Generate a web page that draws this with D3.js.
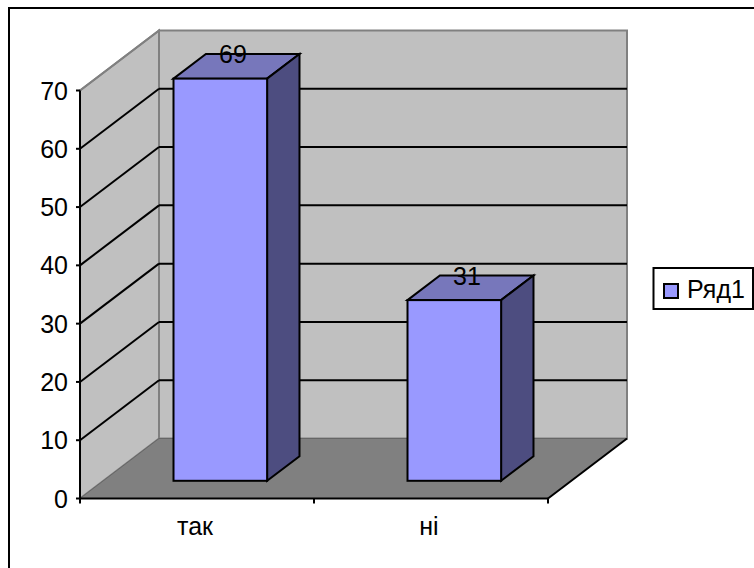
<!DOCTYPE html>
<html>
<head>
<meta charset="utf-8">
<script src="https://cdn.jsdelivr.net/npm/d3@7"></script>
<style>
  html, body { margin: 0; padding: 0; background: #fff; overflow: hidden; }
  text { font-family: "Liberation Sans", Arial, sans-serif; fill: #000; }
</style>
</head>
<body>
<div id="chart"></div>
<script>
const categories = ["так", "ні"];
const values = [69, 31];
const yTicks = [0, 10, 20, 30, 40, 50, 60, 70];
const seriesName = "Ряд1";

const width = 754, height = 568;
const x0 = 80, x1 = 548, y0 = 498.5, y70 = 90.5;
// offset of the back wall from the front of the floor
const depthX = 79, depthY = -60;

const svg = d3.select("#chart").append("svg")
    .attr("width", width)
    .attr("height", height)
    .style("display", "block");

const x = d3.scaleBand().domain(categories).range([x0, x1]).paddingInner(0).paddingOuter(0);
const y = d3.scaleLinear().domain([0, 70]).range([y0, y70]);

// project a point (screen x, screen y at front plane, depth 0..1) to the picture
const px = (sx, z) => sx + z * depthX;
const py = (sy, z) => sy + z * depthY;
const pts = list => list.map(p => p.join(",")).join(" ");

// outer frame, only top and left fall inside the picture
svg.append("path")
    .attr("d", "M9,568V8H754")
    .attr("fill", "none")
    .attr("stroke", "#000")
    .attr("stroke-width", 2);

// back wall
svg.append("rect")
    .attr("x", px(x0, 1)).attr("y", py(y(70), 1))
    .attr("width", x1 - x0).attr("height", y(0) - y(70))
    .attr("fill", "#c0c0c0")
    .attr("stroke", "#808080")
    .attr("stroke-width", 2);

// side wall
svg.append("polygon")
    .attr("points", pts([[x0, y(70)], [px(x0, 1), py(y(70), 1)], [px(x0, 1), py(y(0), 1)], [x0, y(0)]]))
    .attr("fill", "#c0c0c0")
    .attr("stroke", "#808080")
    .attr("stroke-width", 2);

// floor
svg.append("polygon")
    .attr("points", pts([[x0, y(0)], [px(x0, 1), py(y(0), 1)], [px(x1, 1), py(y(0), 1)], [x1, y(0)]]))
    .attr("fill", "#808080")
    .attr("stroke", "#666")
    .attr("stroke-width", 1);

// gridlines on side and back walls
yTicks.filter(t => t > 0 && t < 70).concat([70]).forEach(t => {
    if (t < 70) {
        svg.append("line")
            .attr("x1", x0).attr("y1", y(t))
            .attr("x2", px(x0, 1)).attr("y2", py(y(t), 1))
            .attr("stroke", "#000").attr("stroke-width", 2);
        svg.append("line")
            .attr("x1", px(x0, 1)).attr("y1", py(y(t), 1))
            .attr("x2", px(x1, 1)).attr("y2", py(y(t), 1))
            .attr("stroke", "#000").attr("stroke-width", 2);
    }
});
// 70 line on the back wall sits at the very top, wall stroke covers it
svg.append("line")
    .attr("x1", x0).attr("y1", y(70))
    .attr("x2", px(x0, 1)).attr("y2", py(y(70), 1))
    .attr("stroke", "#808080").attr("stroke-width", 2);

// floor edge on the right
svg.append("line")
    .attr("x1", x1).attr("y1", y(0))
    .attr("x2", px(x1, 1)).attr("y2", py(y(0), 1))
    .attr("stroke", "#000").attr("stroke-width", 2);

// bars
const barW = x.bandwidth() / 2.5;
const zFront = 0.295, zBack = 0.705;
const bars = svg.append("g").selectAll("g")
    .data(categories.map((c, i) => ({ c, v: values[i] })))
    .join("g");

bars.each(function (d) {
    const g = d3.select(this);
    const left = x(d.c) + (x.bandwidth() - barW) / 2;
    const right = left + barW;
    const fx0 = px(left, zFront), fx1 = px(right, zFront);
    const bot = py(y(0), zFront), top = py(y(d.v), zFront);
    const bx1 = px(right, zBack), bx0 = px(left, zBack);
    const bbot = py(y(0), zBack), btop = py(y(d.v), zBack);

    g.append("polygon")
        .attr("points", pts([[fx0, top], [bx0, btop], [bx1, btop], [fx1, top]]))
        .attr("fill", "#7777bb");
    g.append("polygon")
        .attr("points", pts([[fx1, top], [bx1, btop], [bx1, bbot], [fx1, bot]]))
        .attr("fill", "#4d4d80");
    g.append("rect")
        .attr("x", fx0).attr("y", top)
        .attr("width", fx1 - fx0).attr("height", bot - top)
        .attr("fill", "#9999ff");
    g.selectAll("polygon, rect")
        .attr("stroke", "#000").attr("stroke-width", 2).attr("stroke-linejoin", "miter");

    g.append("text")
        .attr("x", px(left + barW / 2, 0.455))
        .attr("y", btop + 9)
        .attr("text-anchor", "middle")
        .attr("font-size", 25)
        .text(d.v);
});

// y axis
const yAxis = svg.append("g");
yAxis.append("line")
    .attr("x1", x0).attr("x2", x0).attr("y1", y(70)).attr("y2", y(0))
    .attr("stroke", "#000").attr("stroke-width", 2);
yAxis.selectAll("line.tick").data(yTicks).join("line")
    .attr("class", "tick")
    .attr("x1", x0 - 4).attr("x2", x0)
    .attr("y1", d => y(d)).attr("y2", d => y(d))
    .attr("stroke", "#000").attr("stroke-width", 2);
yAxis.selectAll("text").data(yTicks).join("text")
    .attr("x", x0 - 12)
    .attr("y", d => y(d) + 9)
    .attr("text-anchor", "end")
    .attr("font-size", 25)
    .text(d => d);

// x axis
const xAxis = svg.append("g");
xAxis.append("line")
    .attr("x1", x0 - 1).attr("x2", x1).attr("y1", y(0)).attr("y2", y(0))
    .attr("stroke", "#000").attr("stroke-width", 2);
xAxis.selectAll("line.tick").data([...categories.map(c => x(c)), x1]).join("line")
    .attr("class", "tick")
    .attr("x1", d => d).attr("x2", d => d)
    .attr("y1", y(0)).attr("y2", y(0) + 5)
    .attr("stroke", "#000").attr("stroke-width", 2);
xAxis.selectAll("text").data(categories).join("text")
    .attr("x", d => x(d) + x.bandwidth() / 2 - 2)
    .attr("y", 535)
    .attr("text-anchor", "middle")
    .attr("font-size", 25)
    .text(d => d);

// legend
const legend = svg.append("g");
legend.append("rect")
    .attr("x", 653.5).attr("y", 268)
    .attr("width", 99.5).attr("height", 41)
    .attr("fill", "#fff").attr("stroke", "#000").attr("stroke-width", 2);
legend.append("rect")
    .attr("x", 664).attr("y", 284)
    .attr("width", 14).attr("height", 14)
    .attr("fill", "#9999ff").attr("stroke", "#000").attr("stroke-width", 2);
legend.append("text")
    .attr("x", 687).attr("y", 298)
    .attr("font-size", 25)
    .text(seriesName);
</script>
</body>
</html>
